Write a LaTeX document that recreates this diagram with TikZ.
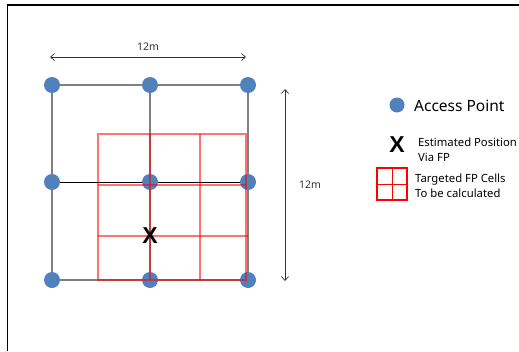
\documentclass[tikz,border=0pt]{standalone}
\usepackage{fontspec}
\setmainfont{Noto Sans}
\newfontfamily\xfont{Liberation Sans}
\usetikzlibrary{positioning,arrows.meta,backgrounds}
\definecolor{apblue}{RGB}{79,129,189}
\tikzset{
  ap/.style={circle,fill=apblue,minimum size=16pt,inner sep=0pt},
  gitter/.style={draw=gray,line width=1.4pt},
  mitte/.style={draw=black,line width=.8pt},
  cel/.style={draw=red,opacity=.55,line width=1.2pt},
  mass/.style={<->,>={Straight Barb[length=4pt,width=7pt]},draw=black!80,line width=.7pt},
  lbl/.style={inner sep=0pt,font=\fontsize{10.5}{12}\selectfont,text=black!80},
  kreuz/.style={inner sep=0pt,font=\fontsize{23}{23}\selectfont\xfont\bfseries},
  legtxt/.style={anchor=west,inner sep=0pt,align=left,font=\fontsize{11.3}{15}\selectfont},
}

\begin{document}
\begin{tikzpicture}[x=1pt,y=-1pt]
  \useasboundingbox (0,0) rectangle (519,351);
  % frame
  \draw[line width=1.3pt] (7.5,351) -- (7.5,5) -- (519,5);
  % access points
  \foreach \r/\y in {1/85,2/182,3/280}
    \foreach \c/\x in {1/52,2/150,3/248}
      \node[ap] (a\r\c) at (\x,\y) {};
  \begin{scope}[on background layer]
    \draw[gitter] (a11.center) -- (a13.center) -- (a33.center) -- (a31.center) -- cycle;
    \draw[gitter] (a12.center) -- (a32.center);
    \draw[mitte] (a21.center) -- (a23.center);
  \end{scope}
  % targeted cells
  \draw[cel] (98,134) rectangle (246,280);
  \draw[cel] (150,134) -- (150,280);
  \draw[cel] (200,134) -- (200,280);
  \draw[cel] (98,185) -- (246,185);
  \draw[cel] (98,236) -- (248,236);
  \node[kreuz] (est) at (150,236) {X};
  % dimensions
  \coordinate (h1) at (50,57);
  \coordinate (h2) at (246,57);
  \draw[mass] (h1) -- (h2) node[lbl,midway,above=6pt] {12m};
  \coordinate (v1) at (285,89);
  \coordinate (v2) at (285,281);
  \draw[mass] (v1) -- (v2);
  \node[lbl] (vl) at (310,185) {12m};
  % legend
  \node[ap,minimum size=15pt] (lap) at (397,105) {};
  \node[anchor=west,inner sep=0pt,font=\fontsize{15.5}{16}\selectfont] (tap) at (414,106) {Access Point};
  \node[kreuz] (lx) at (397,145) {X};
  \node[legtxt] (tx) at (418,149.5) {Estimated Position\\Via FP};
  \draw[red,line width=1.3pt] (377,168) rectangle (407,200);
  \draw[red,line width=1pt] (392,168) -- (392,200) (377,184) -- (407,184);
  \node[legtxt] (tc) at (415,185.5) {Targeted FP Cells\\To be calculated};
\end{tikzpicture}
\end{document}
